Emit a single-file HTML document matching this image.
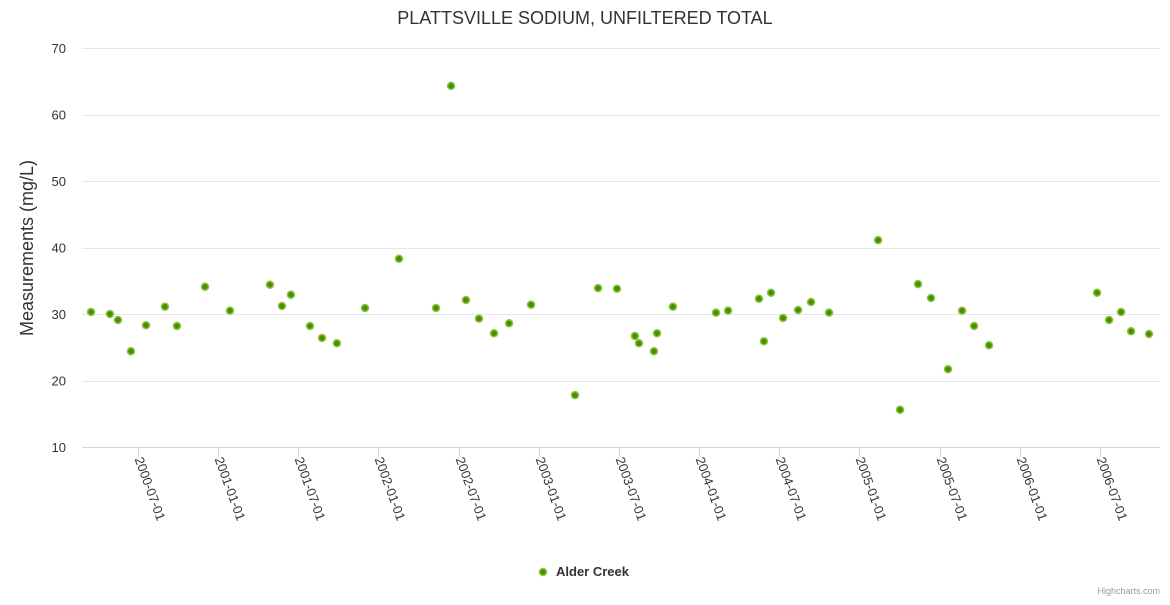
<!DOCTYPE html>
<html><head><meta charset="utf-8"><style>
body{margin:0;background:#fff;font-family:"Liberation Sans",sans-serif;}
svg text{font-family:"Liberation Sans",sans-serif;}
</style></head><body>
<svg id="chart" width="1170" height="600">
<rect width="1170" height="600" fill="#fff"/>
<text x="585" y="24" text-anchor="middle" font-size="18" fill="#333">PLATTSVILLE SODIUM, UNFILTERED TOTAL</text>
<text transform="translate(33,248) rotate(-90)" text-anchor="middle" font-size="18" fill="#333">Measurements (mg/L)</text>
<g id="grid"></g><g id="xaxis"></g><g id="points"></g>
<g>
<circle cx="543" cy="572" r="3.5" fill="#4a8f00" stroke="#8cc63f" stroke-width="1.5"/>
<text x="556" y="576" font-size="13" font-weight="bold" fill="#333">Alder Creek</text>
</g>
<text x="1160" y="594" text-anchor="end" font-size="9" fill="#999">Highcharts.com</text>
</svg>
<script>
const yTicks=[10,20,30,40,50,60,70];
const xTickLabels=["2000-07-01","2001-01-01","2001-07-01","2002-01-01","2002-07-01","2003-01-01","2003-07-01","2004-01-01","2004-07-01","2005-01-01","2005-07-01","2006-01-01","2006-07-01"];
const xTickYears=[2000.5,2001,2001.5,2002,2002.5,2003,2003.5,2004,2004.5,2005,2005.5,2006,2006.5];
const times=[2000.207,2000.325,2000.375,2000.456,2000.55,2000.668,2000.743,2000.918,2001.074,2001.323,2001.398,2001.454,2001.573,2001.648,2001.741,2001.916,2002.128,2002.359,2002.453,2002.546,2002.627,2002.721,2002.815,2002.952,2003.226,2003.37,2003.488,2003.6,2003.625,2003.719,2003.738,2003.837,2004.106,2004.181,2004.374,2004.405,2004.449,2004.524,2004.618,2004.699,2004.811,2005.117,2005.254,2005.366,2005.447,2005.553,2005.641,2005.716,2005.809,2006.483,2006.558,2006.633,2006.695,2006.807];
const values=[30.3,30.0,29.1,24.4,28.3,31.1,28.2,34.1,30.5,34.4,31.2,32.9,28.2,26.4,25.6,30.9,38.3,30.9,64.3,32.1,29.3,27.1,28.6,31.4,17.8,33.9,33.8,26.7,25.6,24.4,27.1,31.1,30.2,30.5,32.3,25.9,33.2,29.4,30.6,31.8,30.2,41.1,15.6,34.5,32.4,21.7,30.5,28.2,25.3,33.2,29.1,30.3,27.4,27.0];
const NS="http://www.w3.org/2000/svg";
const L=82,R=1160,T=48,B=447;
function xs(t){return 138+(t-2000.5)*160.3;}
function ys(v){return B-(v-10)/60*(B-T);}
function mk(tag,attrs,parent){const e=document.createElementNS(NS,tag);for(const k in attrs)e.setAttribute(k,attrs[k]);parent.appendChild(e);return e;}
const grid=document.getElementById('grid');
yTicks.forEach(v=>{
  const y=Math.round(ys(v))+0.5;
  const ln=mk('line',{x1:L,x2:R,y1:y,y2:y,stroke:v===10?'#ccd6eb':'#e6e6e6','stroke-width':1},grid);
  
  
  const t=mk('text',{x:66,y:ys(v)+5,'text-anchor':'end','font-size':13,fill:'#333'},grid);
  t.textContent=v;
  
  
});
const xa=document.getElementById('xaxis');
xTickYears.forEach((yr,i)=>{
  const x=Math.round(xs(yr))+0.5;
  const tk=mk('line',{x1:x,x2:x,y1:B,y2:B+10,stroke:'#ccd6eb'},xa);
  
  
  const t=mk('text',{transform:`translate(${x-4},${B+12}) rotate(70)`,'font-size':13,fill:'#333'},xa);
  t.textContent=xTickLabels[i];
  
  
});
const pg=document.getElementById('points');
times.forEach((t,i)=>{
  const c=mk('circle',{cx:xs(t),cy:ys(values[i]),r:3.5,fill:'#4a8f00',stroke:'#8cc63f','stroke-width':1.5},pg);
  
  
});
</script>
</body></html>
